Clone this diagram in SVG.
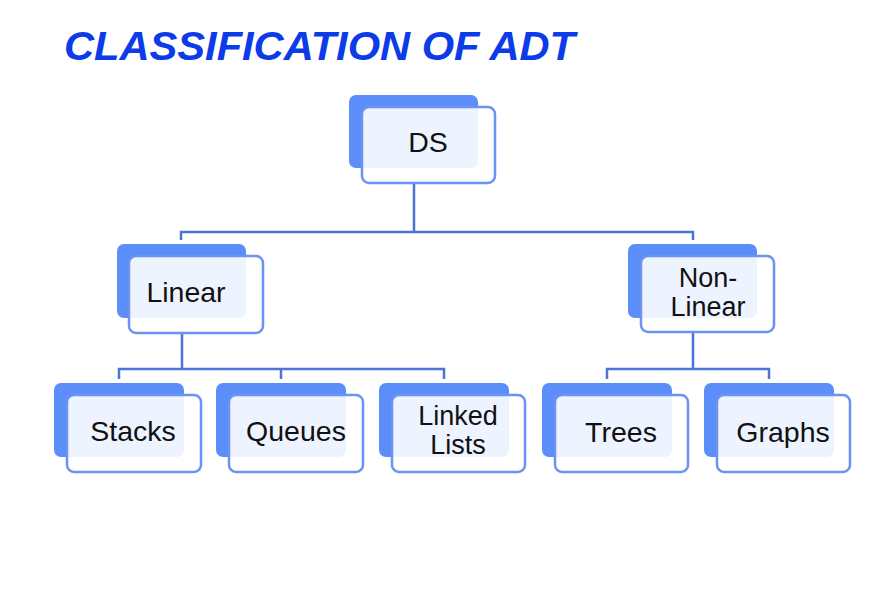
<svg xmlns="http://www.w3.org/2000/svg" width="891" height="605" viewBox="0 0 891 605">
<style>
.back{fill:#5b8ef8;}
.front{fill:#ffffff;fill-opacity:0.89;stroke:#6a93f3;stroke-width:2.5;}
.lbl{font-family:"Liberation Sans",Arial,sans-serif;font-size:28.5px;fill:#111111;text-anchor:middle;}
.lbl2{font-family:"Liberation Sans",Arial,sans-serif;font-size:27px;fill:#111111;text-anchor:middle;}
.title{font-family:"Liberation Sans",Arial,sans-serif;font-size:40px;font-weight:bold;font-style:italic;fill:#0c3be8;}
.conn{fill:none;stroke:#4c74d6;stroke-width:2.5;}
</style>
<rect width="891" height="605" fill="#ffffff"/>
<text class="title" x="64" y="60" textLength="511" lengthAdjust="spacingAndGlyphs">CLASSIFICATION OF ADT</text>
<g id="connectors">
<path class="conn" d="M414 183 V232 M181 240 V232 H693 V240"/>
<path class="conn" d="M182 333 V369 M119 379 V369 H444 V379 M281 369 V379"/>
<path class="conn" d="M693 333 V369 M607 379 V369 H769 V379"/>
</g>
<g id="ds">
<rect class="back" x="349" y="95" width="129" height="73" rx="7"/>
<rect class="front" x="362" y="107" width="133" height="76" rx="7"/>
<text class="lbl" x="428" y="152">DS</text>
</g>
<g id="linear">
<rect class="back" x="117" y="244" width="129" height="74" rx="7"/>
<rect class="front" x="129" y="256" width="134" height="77" rx="7"/>
<text class="lbl" x="186" y="302">Linear</text>
</g>
<g id="nonlinear">
<rect class="back" x="628" y="244" width="129" height="74" rx="7"/>
<rect class="front" x="641" y="256" width="133" height="76" rx="7"/>
<text class="lbl2" x="708" y="287">Non-</text>
<text class="lbl2" x="708" y="316">Linear</text>
</g>
<g id="stacks">
<rect class="back" x="54" y="383" width="130" height="74" rx="7"/>
<rect class="front" x="67" y="395" width="134" height="77" rx="7"/>
<text class="lbl" x="133" y="441">Stacks</text>
</g>
<g id="queues">
<rect class="back" x="216" y="383" width="130" height="74" rx="7"/>
<rect class="front" x="229" y="395" width="134" height="77" rx="7"/>
<text class="lbl" x="296" y="441">Queues</text>
</g>
<g id="linkedlists">
<rect class="back" x="379" y="383" width="130" height="74" rx="7"/>
<rect class="front" x="392" y="395" width="133" height="77" rx="7"/>
<text class="lbl2" x="458" y="425">Linked</text>
<text class="lbl2" x="458" y="454">Lists</text>
</g>
<g id="trees">
<rect class="back" x="542" y="383" width="130" height="74" rx="7"/>
<rect class="front" x="555" y="395" width="133" height="77" rx="7"/>
<text class="lbl" x="621" y="442">Trees</text>
</g>
<g id="graphs">
<rect class="back" x="704" y="383" width="130" height="74" rx="7"/>
<rect class="front" x="717" y="395" width="133" height="77" rx="7"/>
<text class="lbl" x="783" y="442">Graphs</text>
</g>
</svg>
